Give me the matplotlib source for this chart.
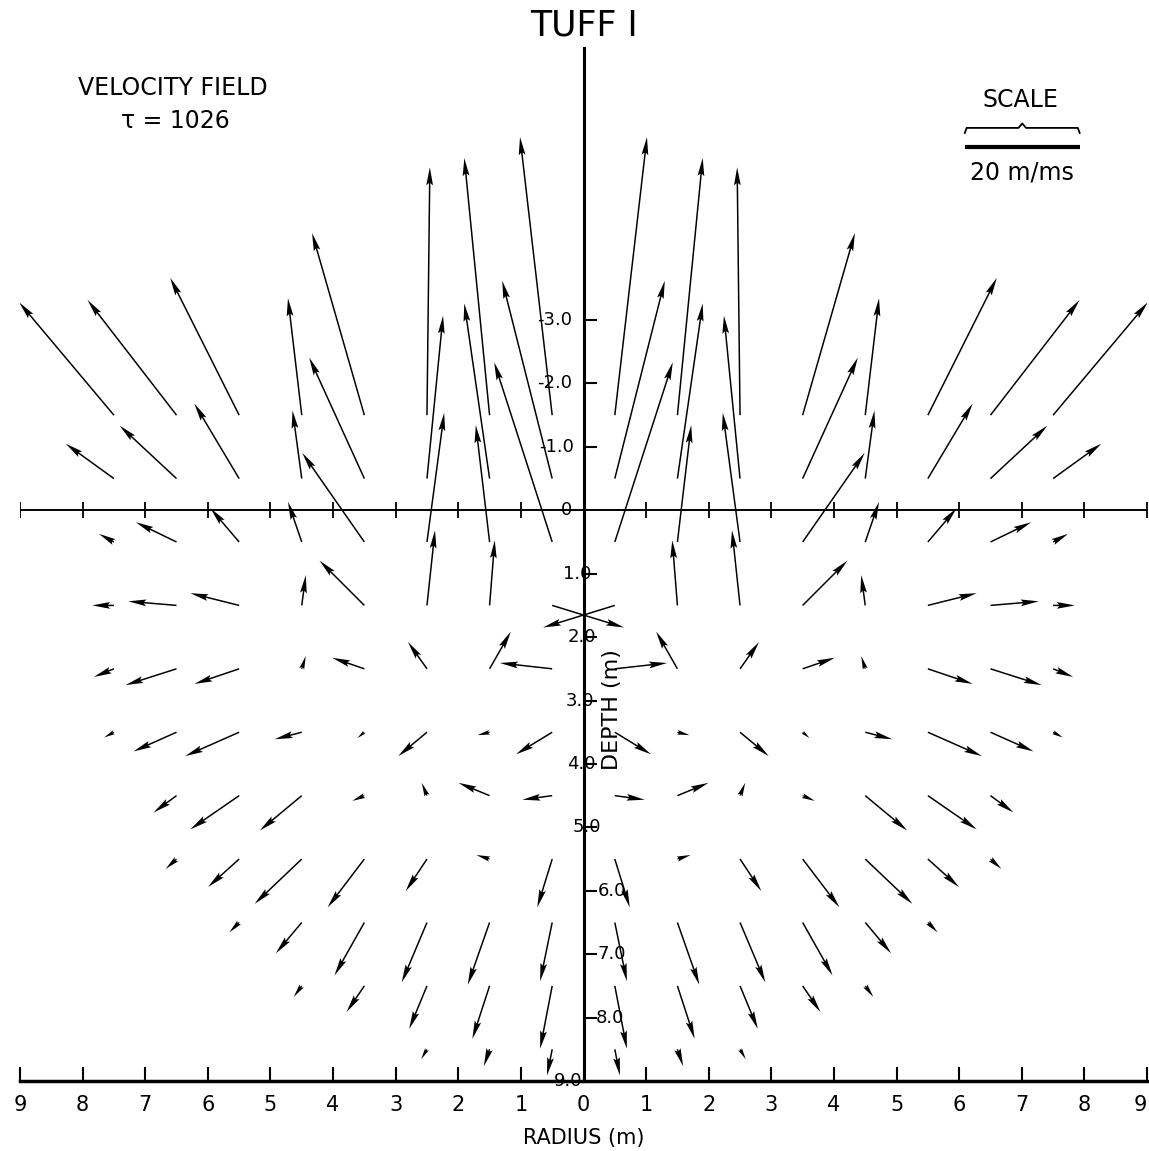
import numpy as np
import matplotlib.pyplot as plt

# mesh points carrying a velocity vector (right half, the field is mirrored about the axis)
radii = [0.5, 1.5, 2.5, 3.5, 4.5, 5.5, 6.5, 7.5]
depths = [-1.5, -0.5, 0.5, 1.5, 2.5, 3.5, 4.5, 5.5, 6.5, 7.5, 8.5]

# radial velocity, m/ms (one row per depth, from the axis outwards)
u_rows = [
    [5.6, 4.4, -0.5, 9.1, 2.4, 12.0, 15.5, 16.5],
    [8.7, 4.4, -2.8, 9.6, 1.6, 7.8, 9.9, 8.4],
    [10.1, 2.4, -3.0, 10.8, 2.4, 5.0, 7.1, 2.6],
    [-12.5, -0.9, -1.4, 7.8, -0.7, 8.5, 8.4, 3.8],
    [9.1, -3.7, 3.3, 5.6, -0.7, 7.8, 8.9, 3.5],
    [6.3, 2.1, 5.0, 1.2, 4.7, 9.4, 7.5, 1.7],
    [5.2, 5.4, 0.9, 2.1, 7.3, 8.5, 4.0],
    [2.6, 2.3, 3.7, 6.4, 8.2, 5.4, 1.9],
    [2.1, 3.8, 4.4, 5.2, 4.5, 1.7],
    [2.1, 3.0, 3.1, 3.1, 1.4],
    [0.9, 1.0, 1.0],
]
# vertical velocity, m/ms (positive upward)
v_rows = [
    [47.8, 44.2, 42.6, 31.3, 20.1, 23.6, 19.8, 19.4],
    [34.0, 30.1, 28.0, 20.8, 11.7, 12.9, 9.1, 6.0],
    [30.9, 20.1, 22.2, 15.3, 6.9, 5.8, 3.4, 1.4],
    [-3.8, 11.2, 12.9, 7.7, 5.2, 2.1, 0.7, 0.0],
    [1.0, 6.4, 4.6, 1.9, 2.2, -2.6, -2.8, -1.4],
    [-3.8, -0.5, -4.1, -1.0, -1.2, -4.1, -3.3, -0.9],
    [-0.7, 2.2, 2.2, -0.9, -6.0, -5.8, -2.9],
    [-8.3, 0.7, -5.5, -8.3, -7.7, -4.8, -1.7],
    [-10.1, -10.7, -10.3, -9.1, -5.3, -1.7],
    [-10.8, -9.1, -7.4, -4.5, -1.9],
    [-4.5, -2.9, -1.7],
]

scale_vel = 20.0          # m/ms shown by the scale bar
vel_per_m = 10.9          # m/ms per metre of plot length

radius_ticks = list(range(-9, 10))
depth_ticks = [-3, -2, -1, 0, 1, 2, 3, 4, 5, 6, 7, 8, 9]
depth_labels = ["-3.0", "-2.0", "-1.0", "0", "1.0", "2.0", "3.0", "4.0",
                "5.0", "6.0", "7.0", "8.0", "9.0"]
depth_label_x = [-0.46, -0.46, -0.43, -0.27, -0.10, -0.02, -0.06, -0.03,
                 0.06, 0.45, 0.45, 0.42, -0.25]

# build the full (mirrored) field
xs, ds, us, vs = [], [], [], []
for d, ur, vr in zip(depths, u_rows, v_rows):
    for r, uu, vv in zip(radii, ur, vr):
        for side in (1, -1):
            xs.append(side * r)
            ds.append(d)
            us.append(side * uu)
            vs.append(-vv)   # depth axis points down

fig = plt.figure(figsize=(11.49, 11.51), dpi=100)
ax = fig.add_axes([20 / 1149, 70 / 1151, 1127 / 1149, 1033 / 1151])
ax.set_xlim(-9, 9)
ax.set_ylim(9.0, -7.29)

ax.quiver(xs, ds, us, vs, angles='xy', scale_units='xy', scale=vel_per_m,
          units='dots', width=1.5, headwidth=4.5, headlength=12,
          headaxislength=10.5, color='black', zorder=3)

# horizontal line at depth 0 with ticks
ax.plot([-9, 9], [0, 0], color='black', lw=1.4, zorder=2)
ax.plot([t for t in radius_ticks if t != 0], [0] * 18, ls='none', marker='|',
        markersize=11, mew=1.3, color='black', zorder=2)

# centre axis (depth) with ticks on the right side
ax.plot([0, 0], [-7.29, 9.0], color='black', lw=2.2, zorder=2, clip_on=False)
ax.hlines([t for t in depth_ticks if t not in (0, 9)], 0, 0.22, color='black', lw=1.5)
for t, lab, xo in zip(depth_ticks, depth_labels, depth_label_x):
    ax.text(xo, t, lab, ha='center', va='center', fontsize=13)
ax.text(0.45, 3.15, "DEPTH (m)", rotation=90, ha='center', va='center', fontsize=16)

# bottom radius axis
for s in ('left', 'right', 'top'):
    ax.spines[s].set_visible(False)
ax.spines['bottom'].set_linewidth(2.5)
ax.set_yticks([])
ax.set_xticks(radius_ticks)
ax.set_xticklabels([str(abs(t)) for t in radius_ticks])
ax.tick_params(axis='x', direction='in', length=10, width=1.5, pad=10, labelsize=15)
ax.get_xticklabels()[-1].set_horizontalalignment('right')
fig.text(584 / 1149, 1 - 1138 / 1151, "RADIUS (m)", ha='center', va='center', fontsize=15)

# scale bar
x0, y0 = 6.09, -5.73
x1 = x0 + scale_vel / vel_per_m
ax.plot([x0, x1], [y0, y0], color='black', lw=3, solid_capstyle='butt')
xm = (x0 + x1) / 2
ax.plot([x0, x0 + 0.03, xm - 0.06, xm, xm + 0.06, x1 - 0.03, x1],
        [y0 - 0.22, y0 - 0.3, y0 - 0.3, y0 - 0.37, y0 - 0.3, y0 - 0.3, y0 - 0.22],
        color='black', lw=1.3)

fig.text(584 / 1149, 1 - 25 / 1151, "TUFF I", ha='center', va='center', fontsize=25)
fig.text(173 / 1149, 1 - 88 / 1151, "VELOCITY FIELD", ha='center', va='center', fontsize=17)
fig.text(175 / 1149, 1 - 121 / 1151, "τ = 1026", ha='center', va='center', fontsize=17)
fig.text(1020 / 1149, 1 - 100 / 1151, "SCALE", ha='center', va='center', fontsize=17)
fig.text(1022 / 1149, 1 - 172 / 1151, "20 m/ms", ha='center', va='center', fontsize=17)

fig.savefig("out.png", dpi=100, facecolor='white')
